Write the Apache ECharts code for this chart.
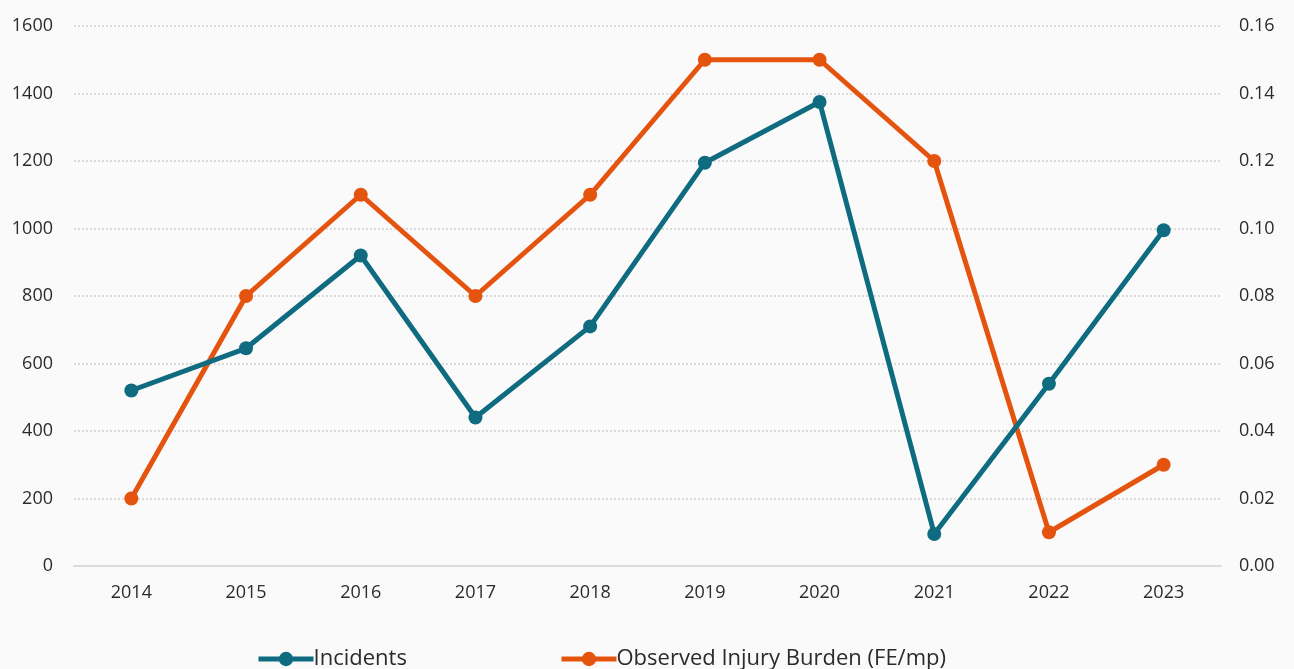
<!DOCTYPE html>
<html>
<head>
<meta charset="utf-8">
<script src="https://cdn.jsdelivr.net/npm/echarts@6/dist/echarts.min.js"></script>
<style>
  html, body { margin: 0; padding: 0; background: #fafafa; }
  #chart { width: 1294px; height: 669px; }
</style>
</head>
<body>
<div id="chart"></div>
<script>
// Yearly incidents and observed injury burden
const years = ['2014', '2015', '2016', '2017', '2018', '2019', '2020', '2021', '2022', '2023'];
const incidents = [520, 645, 920, 440, 710, 1195, 1375, 95, 540, 995];
const injuryBurden = [0.02, 0.08, 0.11, 0.08, 0.11, 0.15, 0.15, 0.12, 0.01, 0.03];
const leftTicks = { min: 0, max: 1600, interval: 200 };
const rightTicks = { min: 0, max: 0.16, interval: 0.02 };

const FONT = '"Open Sans", Lato, sans-serif';
const TEAL = '#0f6b7f';
const ORANGE = '#e4540f';

function legendAt(left, name) {
  return {
    bottom: -6,
    left: left,
    itemWidth: 55,
    itemHeight: 18,
    itemGap: 0,
    lineStyle: { width: 5 },
    textStyle: { fontFamily: FONT, fontSize: 22, color: '#2b2b2b', padding: [0, 0, 0, -5] },
    data: [name]
  };
}

const chart = echarts.init(document.getElementById('chart'));
chart.setOption({
  backgroundColor: '#fafafa',
  animation: false,
  textStyle: { fontFamily: FONT },
  grid: { left: 74, right: 73, top: 26, bottom: 103, containLabel: false },
  legend: [
    legendAt(251, 'Incidents'),
    legendAt(554, 'Observed Injury Burden (FE/mp)')
  ],
  xAxis: {
    type: 'category',
    data: years,
    boundaryGap: true,
    axisLine: { lineStyle: { color: '#dcdcdc', width: 2 } },
    axisTick: { show: false },
    axisLabel: { color: '#2b2b2b', fontSize: 18, margin: 18, fontFamily: FONT }
  },
  yAxis: [
    {
      type: 'value',
      min: leftTicks.min, max: leftTicks.max, interval: leftTicks.interval,
      axisLine: { show: false },
      axisTick: { show: false },
      axisLabel: { color: '#2b2b2b', fontSize: 18, margin: 21, fontFamily: FONT,
        formatter: v => String(v) },
      splitLine: { lineStyle: { color: '#d0d0d0', type: [2, 2], width: 1.5 } }
    },
    {
      type: 'value',
      min: rightTicks.min, max: rightTicks.max, interval: rightTicks.interval,
      axisLine: { show: false },
      axisTick: { show: false },
      axisLabel: { color: '#2b2b2b', fontSize: 18, margin: 18, fontFamily: FONT,
        formatter: v => v.toFixed(2) },
      splitLine: { show: false }
    }
  ],
  series: [
    {
      name: 'Incidents',
      type: 'line',
      yAxisIndex: 0,
      data: incidents,
      color: TEAL,
      symbol: 'circle',
      symbolSize: 14,
      lineStyle: { width: 5 },
      z: 3
    },
    {
      name: 'Observed Injury Burden (FE/mp)',
      type: 'line',
      yAxisIndex: 1,
      data: injuryBurden,
      color: ORANGE,
      symbol: 'circle',
      symbolSize: 14,
      lineStyle: { width: 5 },
      z: 2
    }
  ]
});
</script>
</body>
</html>
